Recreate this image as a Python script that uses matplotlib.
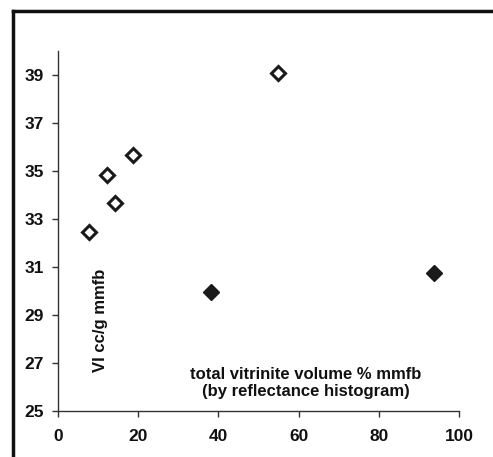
import matplotlib
matplotlib.use("Agg")
import matplotlib.pyplot as plt
from matplotlib.lines import Line2D

plt.rcParams['font.family'] = ['Liberation Sans', 'DejaVu Sans']

# open diamonds
open_x = [7.7, 12.2, 14.2, 18.7, 54.9]
open_y = [32.45, 34.85, 33.67, 35.67, 39.1]
# filled diamonds
fill_x = [38.2, 93.8]
fill_y = [29.96, 30.75]

xticks = [0, 20, 40, 60, 80, 100]
yticks = [25, 27, 29, 31, 33, 35, 37, 39]

fig = plt.figure(figsize=(4.93, 4.57), dpi=100)
ax = fig.add_axes([58/493, 1-411/457, (459-58)/493, (411-51)/457])

ax.plot(open_x, open_y, linestyle='none', marker='D', markersize=7.5,
        markerfacecolor='white', markeredgecolor='#1a1a1a', markeredgewidth=2.2)
ax.plot(fill_x, fill_y, linestyle='none', marker='D', markersize=8,
        markerfacecolor='#1a1a1a', markeredgecolor='#1a1a1a', markeredgewidth=1)

ax.set_xlim(0, 100)
ax.set_ylim(25, 40)
ax.set_xticks(xticks)
ax.set_yticks(yticks)
ax.tick_params(axis='both', direction='out', length=4, width=1, colors='#333333',
               labelsize=12.5, labelcolor='#111111')
ax.tick_params(axis='x', pad=9)
ax.tick_params(axis='y', pad=6)
for lab in ax.get_xticklabels() + ax.get_yticklabels():
    lab.set_fontweight('bold')
for s in ['top', 'right']:
    ax.spines[s].set_visible(False)
for s in ['left', 'bottom']:
    ax.spines[s].set_color('#333333')
    ax.spines[s].set_linewidth(1)

ax.text(0.106, 0.253, 'VI cc/g mmfb', rotation=90, transform=ax.transAxes,
        ha='center', va='center', fontsize=12, fontweight='bold', color='#111111')
ax.text(0.618, 0.078, 'total vitrinite volume % mmfb\n(by reflectance histogram)',
        transform=ax.transAxes, ha='center', va='center', fontsize=12,
        fontweight='bold', color='#111111', linespacing=1.2)

# outer frame lines (top and left)
fig.add_artist(Line2D([13/493, 1.0], [1-11/457, 1-11/457], transform=fig.transFigure,
                      color='#111111', linewidth=2.5))
fig.add_artist(Line2D([13/493, 13/493], [0, 1-11/457], transform=fig.transFigure,
                      color='#111111', linewidth=2.5))

fig.savefig('out.png', dpi=100)
